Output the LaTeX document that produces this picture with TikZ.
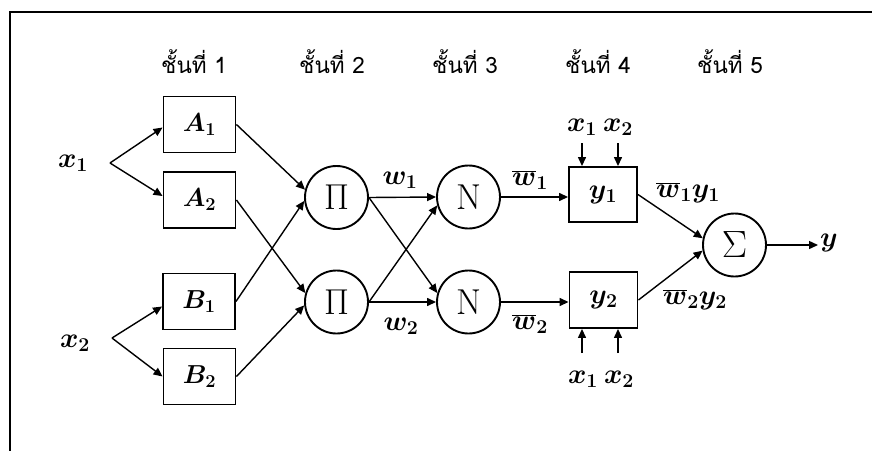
\RequirePackage{fix-cm}
\documentclass[tikz,border=0pt]{standalone}
\usepackage{fontspec}
\newfontfamily\thaifont[Script=Thai]{Loma}
\usetikzlibrary{arrows.meta,calc}
\newcommand\mfont{\fontsize{28}{32}\selectfont\boldmath}
\newcommand\capfont{\fontsize{26}{30}\selectfont\boldmath}
\newcommand\bigfont{\fontsize{36}{40}\selectfont}
\begin{document}
\begin{tikzpicture}[x=1pt,y=-1pt,
  blk/.style={draw,line width=1.9pt,minimum width=72pt,minimum height=56pt,inner sep=0pt,font=\capfont},
  circ/.style={draw,circle,line width=1.9pt,minimum size=63pt,inner sep=0pt,font=\bigfont},
  arr/.style={-{Triangle[length=9pt,width=8pt]},line width=1.4pt},
  lab/.style={inner sep=0pt,font=\mfont},
  layer/.style={inner sep=0pt,font=\thaifont\fontsize{22.5}{26}\selectfont}]
\useasboundingbox (0,0) rectangle (872,450);
\fill[white] (0,0) rectangle (872,450);
% frame
\draw[line width=2.2pt] (10,452) -- (10,12) -- (874,12);
% layer titles
\node[layer] (L1) at (194,62) {ชั้นที่ 1};
\node[layer] (L2) at (332,62) {ชั้นที่ 2};
\node[layer] (L3) at (465,62) {ชั้นที่ 3};
\node[layer] (L4) at (598,62) {ชั้นที่ 4};
\node[layer] (L5) at (730,62) {ชั้นที่ 5};
% layer 1
\node[blk] (A1) at (199.5,124.5) {$A_1$};
\node[blk] (A2) at (199.5,200) {$A_2$};
\node[blk] (B1) at (199,301.5) {$B_1$};
\node[blk] (B2) at (199.5,376.5) {$B_2$};
% inputs
\node[lab] (X1) at (73,163) {$x_1$};
\node[lab] (X2) at (75,343) {$x_2$};
\coordinate (f1) at (110,163);
\coordinate (f2) at (112,338);
\draw[arr] (f1) -- ([yshift=-3pt]A1.west);
\draw[arr] (f1) -- ([yshift=4pt]A2.west);
\draw[arr] (f2) -- ([yshift=-5pt]B1.west);
\draw[arr] (f2) -- (B2.west);
% layer 2
\node[circ] (P1) at (336.5,197.5) {$\Pi$};
\node[circ] (P2) at (336.5,302) {$\Pi$};
\draw[arr] (A1.east) -- (P1.166);
\draw[arr] (B1.east) -- (P1.186);
\draw[arr] (A2.east) -- (P2.164);
\draw[arr] (B2.east) -- (P2.186);
% layer 3
\node[circ] (N1) at (468.5,197) {N};
\node[circ] (N2) at (468.5,302) {N};
\draw[arr] (P1.east) -- (N1.west);
\draw[arr] (P1.east) -- (N2.164);
\draw[arr] (P2.east) -- (N2.west);
\draw[arr] (P2.east) -- (N1.195);
\node[lab] (w1) at (400,180) {$w_1$};
\node[lab] (w2) at (401,326) {$w_2$};
% layer 4
\node[blk,font=\mfont,minimum width=68pt,minimum height=55pt] (Y1) at (603,194.5) {$y_1$};
\node[blk,font=\mfont,minimum width=68pt,minimum height=56pt] (Y2) at (603.5,300) {$y_2$};
\draw[arr] (N1.east) -- (N1.east -| Y1.west);
\draw[arr] (N2.east) -- (N2.east -| Y2.west);
\node[lab] (wb1) at (530,180) {$\overline{w}_1$};
\node[lab] (wb2) at (530,324) {$\overline{w}_2$};
% consequent inputs
\node[lab] (t1) at (582,127) {$x_1$};
\node[lab] (t2) at (618,127) {$x_2$};
\coordinate (t1s) at (582,143);
\coordinate (t2s) at (618,143);
\draw[arr] (t1s) -- (t1s |- Y1.north);
\draw[arr] (t2s) -- (t2s |- Y1.north);
\node[lab] (u1) at (583,379) {$x_1$};
\node[lab] (u2) at (619,379) {$x_2$};
\coordinate (u1s) at (582,353);
\coordinate (u2s) at (618,353);
\draw[arr] (u1s) -- (u1s |- Y2.south);
\draw[arr] (u2s) -- (u2s |- Y2.south);
% layer 5
\node[circ,font=\fontsize{38}{44}\selectfont] (S) at (734.5,245) {$\Sigma$};
\draw[arr] (Y1.east) -- (S.168);
\draw[arr] (Y2.east) -- (S.190);
\node[lab] (wy1) at (688,193) {$\overline{w}_1y_1$};
\node[lab] (wy2) at (695,300) {$\overline{w}_2y_2$};
\coordinate (o) at (818,245);
\draw[arr] (S.east) -- (o);
\node[lab,anchor=west] (Y) at (820,243) {$y$};
\end{tikzpicture}
\end{document}
